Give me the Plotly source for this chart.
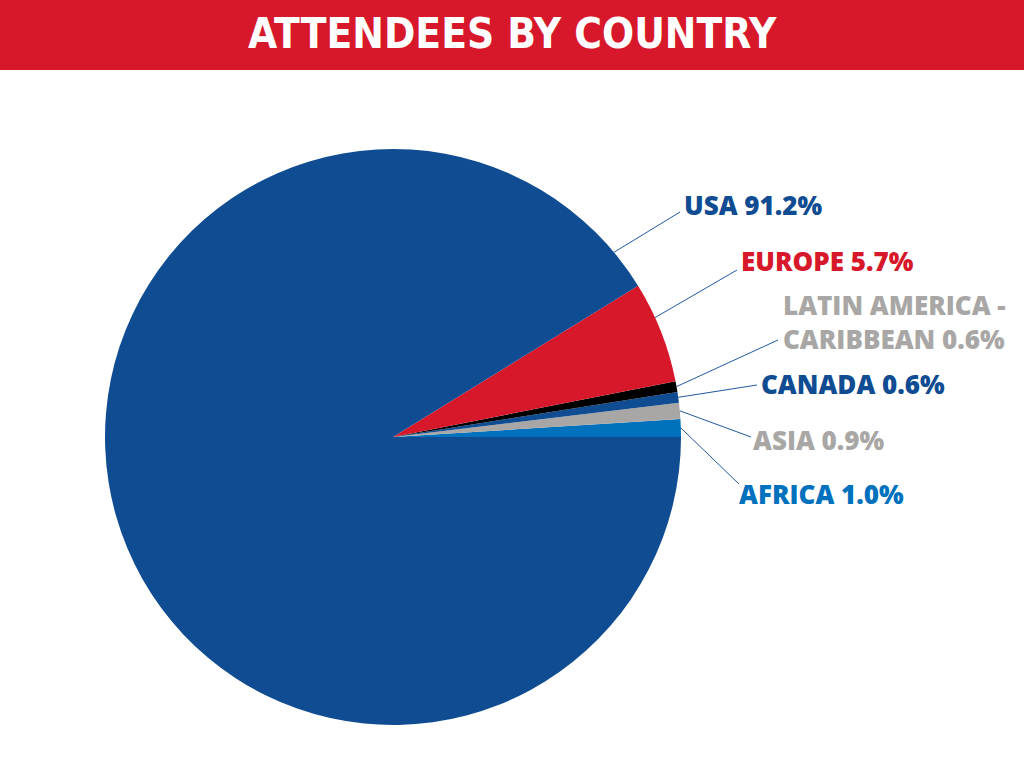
import math
import plotly.graph_objects as go

# ---- data ----
regions = ["AFRICA", "ASIA", "CANADA", "LATIN AMERICA -<br>CARIBBEAN", "EUROPE", "USA"]
shares = [1.0, 0.9, 0.6, 0.6, 5.7, 91.2]
slice_colors = ["#0071BC", "#A8A7A5", "#0F4C92", "#000000", "#D7182A", "#0F4C92"]
label_colors = ["#0071BC", "#A8A7A5", "#0F4C92", "#A8A7A5", "#D7182A", "#0F4C92"]
title_text = "ATTENDEES BY COUNTRY"

# ---- layout helpers ----
W, H = 1024, 768
CX, CY, R = 393, 437, 288
# where along each slice the leader line starts (fraction of slice span)
anchor_frac = [0.5, 0.5, 0.5, 0.5, 0.65, 0.025]
# leader-line end (px) and label left/middle position (px)
line_ends = [(739, 484), (751, 437), (757, 385), (778, 340), (737, 270), (680, 212)]
text_pos = [(737, 494), (751, 440), (759, 384), (781, 322), (739, 261), (682, 205)]

def px(x, y):
    return x / W, 1 - y / H

total = sum(shares)
first_deg = shares[0] / total * 360

fig = go.Figure()
fig.add_trace(go.Pie(
    labels=regions, values=shares, sort=False, direction="counterclockwise",
    rotation=90 - first_deg, textinfo="none", showlegend=False,
    marker=dict(colors=slice_colors, line=dict(width=0)),
    domain=dict(x=[(CX - R) / W, (CX + R) / W], y=[1 - (CY + R) / H, 1 - (CY - R) / H]),
    hovertemplate="%{label}: %{value}%<extra></extra>",
))

shapes = [dict(type="rect", xref="paper", yref="paper", x0=0, x1=1,
               y0=1 - 70 / H, y1=1, fillcolor="#D7182A", line=dict(width=0), layer="below")]
annotations = [dict(text="<b>" + title_text + "</b>", xref="paper", yref="paper",
                    x=512 / W, y=1 - 33 / H, xanchor="center", yanchor="middle",
                    showarrow=False,
                    font=dict(family="DejaVu Sans Condensed, sans-serif",
                              size=42, color="white"))]

cum = 0.0
for i, v in enumerate(shares):
    start = cum / total * 360
    span = v / total * 360
    cum += v
    ang = math.radians(start + span * anchor_frac[i])
    sx, sy = CX + R * math.cos(ang), CY - R * math.sin(ang)
    x0, y0 = px(sx, sy)
    x1, y1 = px(*line_ends[i])
    shapes.append(dict(type="line", xref="paper", yref="paper", x0=x0, y0=y0, x1=x1, y1=y1,
                       line=dict(color="#1F5AA0", width=1)))
    tx, ty = px(*text_pos[i])
    pct = f"{v:.1f}%"
    annotations.append(dict(text=f"{regions[i]} {pct}", xref="paper", yref="paper",
                            x=tx, y=ty, xanchor="left", yanchor="middle", align="left",
                            showarrow=False,
                            font=dict(family="Open Sans, sans-serif", size=26, weight=800,
                                      color=label_colors[i])))

fig.update_layout(width=W, height=H, margin=dict(l=0, r=0, t=0, b=0),
                  paper_bgcolor="white", plot_bgcolor="white",
                  shapes=shapes, annotations=annotations)
fig.write_html("out.html")
